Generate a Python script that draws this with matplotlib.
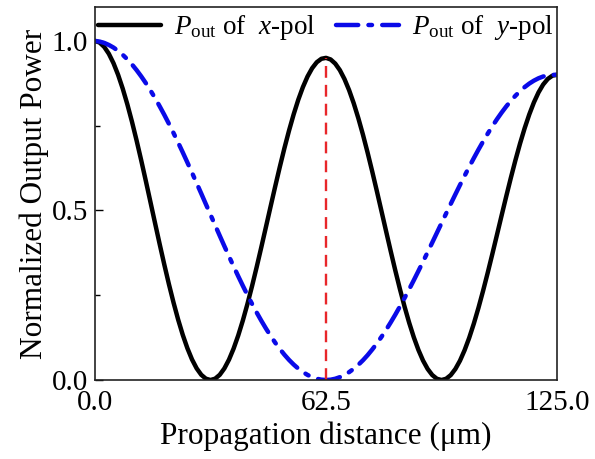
import matplotlib
matplotlib.use("Agg")
import matplotlib.pyplot as plt
from matplotlib.ticker import MultipleLocator

plt.rcParams['font.family'] = ['Liberation Serif', 'DejaVu Serif']
plt.rcParams['mathtext.fontset'] = 'custom'
plt.rcParams['mathtext.rm'] = 'Liberation Serif'
plt.rcParams['mathtext.it'] = 'Liberation Serif:italic'

# propagation distance (um), sampled every 1.25 um
distance = [1.25 * k for k in range(101)]

# normalized output power, x-polarization
p_x = [1.0000, 0.9951, 0.9823, 0.9620, 0.9344, 0.9000, 0.8593, 0.8130, 0.7618, 0.7065,
       0.6480, 0.5872, 0.5250, 0.4625, 0.4006, 0.3403, 0.2825, 0.2282, 0.1780, 0.1329,
       0.0936, 0.0605, 0.0343, 0.0153, 0.0038, 0.0000, 0.0038, 0.0153, 0.0341, 0.0600,
       0.0926, 0.1313, 0.1755, 0.2244, 0.2773, 0.3334, 0.3917, 0.4513, 0.5112, 0.5705,
       0.6283, 0.6837, 0.7356, 0.7835, 0.8265, 0.8638, 0.8950, 0.9195, 0.9371, 0.9473,
       0.9500, 0.9453, 0.9331, 0.9138, 0.8875, 0.8548, 0.8161, 0.7720, 0.7234, 0.6708,
       0.6152, 0.5575, 0.4985, 0.4391, 0.3803, 0.3230, 0.2682, 0.2165, 0.1690, 0.1262,
       0.0888, 0.0574, 0.0326, 0.0146, 0.0036, 0.0000, 0.0036, 0.0145, 0.0324, 0.0569,
       0.0879, 0.1245, 0.1664, 0.2128, 0.2630, 0.3161, 0.3714, 0.4278, 0.4846, 0.5409,
       0.5956, 0.6480, 0.6973, 0.7426, 0.7832, 0.8186, 0.8481, 0.8713, 0.8878, 0.8975,
       0.9000]

# normalized output power, y-polarization
p_y = [1.0000, 0.9980, 0.9941, 0.9881, 0.9804, 0.9706, 0.9591, 0.9457, 0.9307, 0.9139,
       0.8955, 0.8756, 0.8541, 0.8314, 0.8072, 0.7820, 0.7556, 0.7283, 0.7001, 0.6711,
       0.6414, 0.6113, 0.5806, 0.5498, 0.5186, 0.4875, 0.4564, 0.4255, 0.3949, 0.3648,
       0.3351, 0.3061, 0.2779, 0.2505, 0.2242, 0.1989, 0.1748, 0.1519, 0.1304, 0.1102,
       0.0917, 0.0746, 0.0592, 0.0456, 0.0336, 0.0234, 0.0150, 0.0085, 0.0037, 0.0010,
       0.0000, 0.0009, 0.0037, 0.0084, 0.0149, 0.0232, 0.0331, 0.0449, 0.0582, 0.0732,
       0.0898, 0.1077, 0.1271, 0.1478, 0.1697, 0.1927, 0.2168, 0.2417, 0.2676, 0.2941,
       0.3213, 0.3490, 0.3770, 0.4054, 0.4339, 0.4625, 0.4910, 0.5194, 0.5474, 0.5751,
       0.6021, 0.6287, 0.6544, 0.6794, 0.7034, 0.7264, 0.7483, 0.7690, 0.7884, 0.8065,
       0.8231, 0.8383, 0.8519, 0.8638, 0.8742, 0.8828, 0.8898, 0.8950, 0.8985, 0.9000,
       0.9000]

marker_x = 62.5
marker_peak = 0.95

xticks = [0.0, 62.5, 125.0]
xticklabels = ['0.0', '62.5', '125.0']
yticks = [0.0, 0.5, 1.0]
yticklabels = ['0.0', '0.5', '1.0']

fig = plt.figure(figsize=(5.95, 4.59), dpi=100)
ax = fig.add_axes([95/595, 1 - 380/459, (557-95)/595, (380-7)/459])

ax.plot(distance, p_x, color='black', lw=3.2, solid_capstyle='round',
        solid_joinstyle='round', label=r'$P_{\rm out}$ of  $x$-pol')
ax.plot(distance, p_y, color='#0a0ae8', lw=3.2, dashes=(5, 2.3, 0.8, 2.3),
        dash_capstyle='round', label=r'$P_{\rm out}$ of  $y$-pol')
ax.plot([marker_x, marker_x], [0, marker_peak], color='#e8262a', lw=1.7, dashes=(5, 3))

ax.set_xlim(0, 125)
ax.set_ylim(0, 1.1)
ax.set_xticks(xticks)
ax.set_xticklabels(xticklabels)
ax.set_yticks(yticks)
ax.set_yticklabels(yticklabels)
ax.yaxis.set_minor_locator(MultipleLocator(0.25))
ax.tick_params(axis='y', which='major', direction='in', length=6, width=1, labelsize=21, pad=5)
ax.tick_params(axis='y', which='minor', direction='in', length=3.5, width=1)
ax.tick_params(axis='x', which='major', length=0, labelsize=21, pad=7.5)
for s in ax.spines.values():
    s.set_linewidth(1.2)
    s.set_color('#222222')

ax.set_xlabel('Propagation distance (\u03bcm)', fontsize=22.5, labelpad=4)
ax.set_ylabel('Normalized Output Power', fontsize=22.5, labelpad=2)

leg = ax.legend(loc='upper left', bbox_to_anchor=(0.0, 0.99), ncol=2, frameon=False,
                fontsize=19.5, handlelength=2.33, handletextpad=0.48, columnspacing=0.75,
                borderaxespad=0.0, borderpad=0.1)

fig.savefig('out.png', dpi=100)
